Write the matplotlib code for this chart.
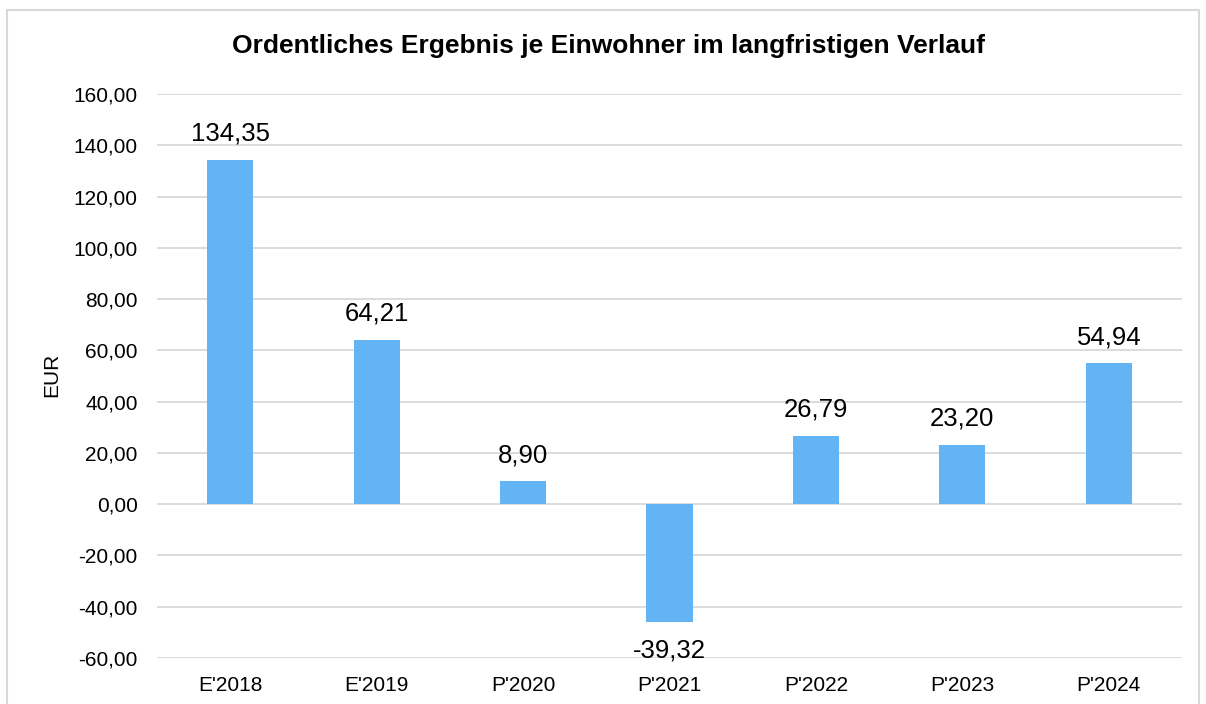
import matplotlib
matplotlib.use('Agg')
import matplotlib.pyplot as plt
from matplotlib.patches import Rectangle

categories = ["E'2018", "E'2019", "P'2020", "P'2021", "P'2022", "P'2023", "P'2024"]
# bar heights as drawn (the P'2021 bar is drawn deeper than its label says)
values = [134.35, 64.21, 8.90, -45.8, 26.79, 23.20, 54.94]
value_labels = ["134,35", "64,21", "8,90", "-39,32", "26,79", "23,20", "54,94"]
yticks = [-60, -40, -20, 0, 20, 40, 60, 80, 100, 120, 140, 160]

plt.rcParams['font.family'] = ['Liberation Sans', 'DejaVu Sans']

fig = plt.figure(figsize=(12.06, 7.04), dpi=100)
ax = fig.add_axes([157/1206, 1 - 658/704, (1182 - 157)/1206, (658 - 94)/704])

x = range(len(categories))
ax.bar(x, values, width=0.315, color='#63B4F5', zorder=3)

for i, (v, lab) in enumerate(zip(values, value_labels)):
    if v >= 0:
        ax.annotate(lab, (i, v), xytext=(0, 10), textcoords='offset points',
                    ha='center', va='bottom', fontsize=18.5)
    else:
        ax.annotate(lab, (i, v), xytext=(0, -12), textcoords='offset points',
                    ha='center', va='top', fontsize=18.5)

ax.set_xlim(-0.5, len(categories) - 0.5)
ax.set_ylim(-60, 160)
ax.set_yticks(yticks)
ax.set_yticklabels([f"{t:.2f}".replace('.', ',') for t in yticks])
ax.set_xticks(list(x))
ax.set_xticklabels(categories)
ax.tick_params(axis='y', length=0, pad=14, labelsize=15)
ax.tick_params(axis='x', length=0, pad=13, labelsize=15)
ax.grid(axis='y', color='#D9D9D9', linewidth=1.3, zorder=0)
for s in ax.spines.values():
    s.set_visible(False)

fig.text(52/1206, 1 - 375/704, 'EUR', rotation=90, ha='center', va='center', fontsize=15)

fig.text(609/1206, 1 - 46/704, 'Ordentliches Ergebnis je Einwohner im langfristigen Verlauf',
         ha='center', va='center', fontsize=19, fontweight='bold')

# light grey frame around the chart (bottom edge is cut off)
fig.patches.append(Rectangle((7/1206, -0.05), (1199 - 7)/1206, 1.05 - 10/704,
                             transform=fig.transFigure, fill=False,
                             edgecolor='#D9D9D9', linewidth=1.5))

fig.savefig('out.png', dpi=100)
